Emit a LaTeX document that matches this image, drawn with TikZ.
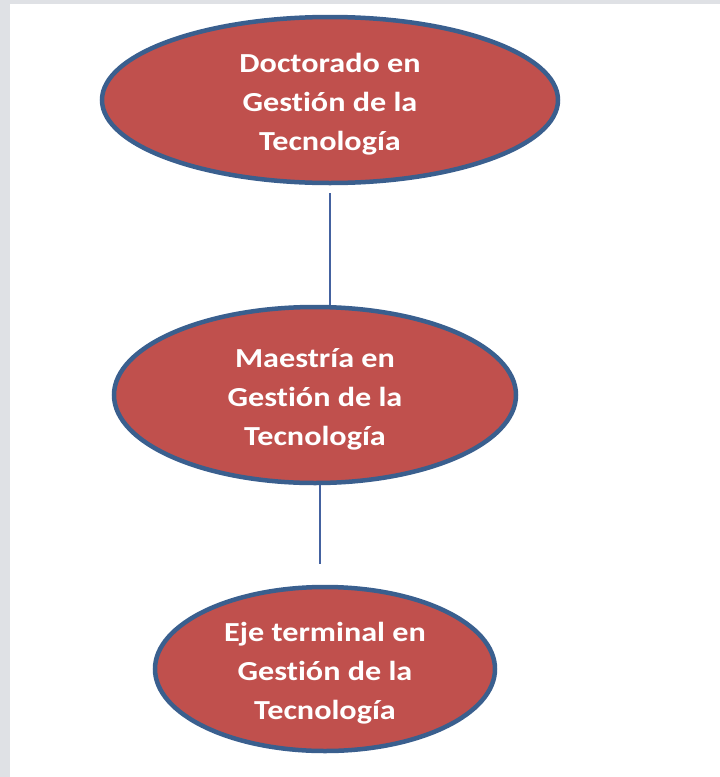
\documentclass[tikz,border=0pt]{standalone}
\usepackage{fontspec}
\newfontfamily\NodeFont{Carlito}[FakeStretch=1.17, Ligatures=NoCommon]
\definecolor{FrameGray}{RGB}{223,225,229}
\definecolor{EllipseFill}{RGB}{192,80,77}
\definecolor{EllipseBorder}{RGB}{58,95,142}
\definecolor{LinkBlue}{RGB}{68,98,160}
\usetikzlibrary{shapes.geometric, positioning}
\newcommand{\alto}{\rule{0pt}{28pt}}

\begin{document}
\begin{tikzpicture}[x=1pt, y=-1pt,
    grado/.style={ellipse, draw=EllipseBorder, line width=4.5pt, fill=EllipseFill, inner sep=0pt,
      text=white, align=center, font=\NodeFont\bfseries\fontsize{27.5}{39}\selectfont},
    enlace/.style={LinkBlue, line width=1.3pt}]
  \fill[FrameGray] (0,0) rectangle (720,777);
  \fill[white] (10,4) rectangle (720,777);
  \useasboundingbox (0,0) rectangle (720,777);
  % grados
  \node[grado, minimum width=456pt, minimum height=166pt] (doctorado) at (330,100) {\alto Doctorado en\\Gestión de la\\Tecnología};
  \node[grado, minimum width=402pt, minimum height=176pt] (maestria) at (315,395) {\alto Maestría en\\Gestión de la\\Tecnología};
  \node[grado, minimum width=340pt, minimum height=164pt] (eje) at (325,669) {\alto Eje terminal en\\Gestión de la\\Tecnología};
  % enlaces
  \coordinate (d1) at (330,193);
  \coordinate (e1) at (320,564);
  \draw[enlace] (d1) -- (d1 |- maestria.north);
  \draw[enlace] (e1 |- maestria.south) -- (e1);
\end{tikzpicture}
\end{document}
